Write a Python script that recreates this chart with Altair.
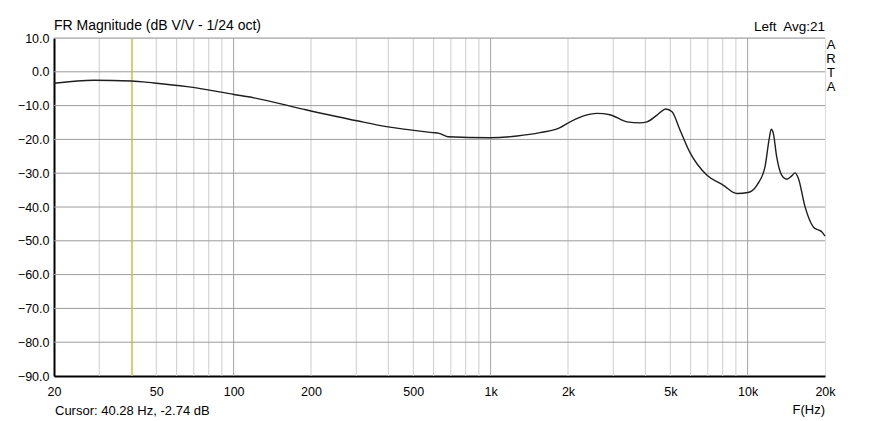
import altair as alt
import pandas as pd

# Frequency response
freq_hz = [20, 28.6, 39.9, 49, 65.9, 100.3, 120, 187.9, 302, 398.8, 596.8, 630, 682, 994, 1266,
           1556, 1862, 1982, 2286, 2594, 2913, 3394, 3811, 4059, 4440, 4812, 5078, 5455, 5968,
           6950, 8021, 9091, 10030, 10875, 11682, 12110, 12360, 12590, 12970, 13570, 14190,
           14840, 15290, 15750, 16720, 18020, 18850, 19420, 20000]
mag_db = [-3.4, -2.5, -2.7, -3.3, -4.4, -6.7, -7.7, -11.1, -14.5, -16.3, -18.0, -18.2, -19.2,
          -19.5, -19.0, -18.0, -16.5, -15.3, -13.1, -12.3, -12.7, -14.8, -15.1, -14.8, -12.8,
          -11.0, -11.8, -17.2, -23.9, -30.6, -33.5, -36.0, -35.7, -33.5, -28.1, -20.2, -17.0,
          -18.2, -25.1, -30.6, -31.8, -30.8, -29.9, -31.5, -39.9, -45.9, -46.8, -47.3, -48.6]

minor_grid_hz = [30, 40, 50, 60, 70, 80, 90, 200, 300, 400, 500, 600, 700, 800, 900,
                 2000, 3000, 4000, 5000, 6000, 7000, 8000, 9000]
major_grid_hz = [100, 1000, 10000]
y_grid_db = [-80, -70, -60, -50, -40, -30, -20, -10, 0, 10]
x_tick_hz = [20, 50, 100, 200, 500, 1000, 2000, 5000, 10000, 20000]
y_tick_db = [-90, -80, -70, -60, -50, -40, -30, -20, -10, 0, 10]
cursor_hz = [40.28]

title_text = "FR Magnitude (dB V/V - 1/24 oct)"
right_title = "Left\u00a0 Avg:21"
cursor_text = "Cursor: 40.28 Hz, -2.74 dB"
xlabel_text = "F(Hz)"
arta_text = "A\nR\nT\nA"

FONT = "Liberation Sans"
xscale = alt.Scale(type="log", domain=[20, 20000], nice=False)
yscale = alt.Scale(domain=[-90, 10], nice=False, zero=False)

xaxis = alt.Axis(values=x_tick_hz, grid=False, ticks=False, domainColor="black",
                 domainWidth=2, labelFont=FONT, labelFontSize=12.5, labelColor="black",
                 labelPadding=9, labelFlush=False, labelOverlap=False,
                 labelExpr="datum.value >= 1000 ? (datum.value/1000) + 'k' : datum.value")
yaxis = alt.Axis(values=y_tick_db, grid=False, ticks=False, domainColor="black",
                 domainWidth=2, labelFont=FONT, labelFontSize=12.5, labelColor="black",
                 labelPadding=5, format=".1f", labelOverlap=False)

def X():
    return alt.X("f:Q", scale=xscale, axis=xaxis, title=None)

def Y():
    return alt.Y("db:Q", scale=yscale, axis=yaxis, title=None)

curve = pd.DataFrame({"f": freq_hz, "db": mag_db})

minor = alt.Chart(pd.DataFrame({"f": minor_grid_hz})).mark_rule(
    color="#cdcdcd", strokeWidth=1).encode(x=X())
major = alt.Chart(pd.DataFrame({"f": major_grid_hz})).mark_rule(
    color="#a4a4a4", strokeWidth=1).encode(x=X())
hgrid = alt.Chart(pd.DataFrame({"db": y_grid_db})).mark_rule(
    color="#9c9c9c", strokeWidth=1).encode(y=Y())
cursor = alt.Chart(pd.DataFrame({"f": cursor_hz})).mark_rule(
    color="#c8c832", strokeWidth=1.2).encode(x=X())

line = alt.Chart(curve).mark_line(color="#1e1e1e", strokeWidth=1.4,
                                  interpolate="monotone").encode(x=X(), y=Y())

def label(txt, x, y, align="left", size=12, line_break=None):
    kw = dict(font=FONT, fontSize=size, color="black", align=align, baseline="middle")
    if line_break:
        kw.update(lineBreak=line_break, lineHeight=14, baseline="top")
    return alt.Chart(pd.DataFrame({"t": [txt]})).mark_text(**kw).encode(
        text="t:N", x=alt.value(x), y=alt.value(y))

layers = [
    minor, major, hgrid, cursor, line,
    label(title_text, 0, -12, size=14),
    label(right_title, 771, -11, align="right", size=13.5),
    label(cursor_text, 1, 373, size=13),
    label(xlabel_text, 771, 372, align="right", size=13),
    label(arta_text, 777, 1, align="center", size=13, line_break="\n"),
]

chart = alt.layer(*layers).properties(
    width=771, height=338,
    padding={"left": 46, "top": 30, "right": 44, "bottom": 45},
    autosize="none",
).configure_view(stroke="black", strokeWidth=1.5).configure(background="white")

chart.save("out.html", embed_options={"renderer": "svg", "actions": False})
